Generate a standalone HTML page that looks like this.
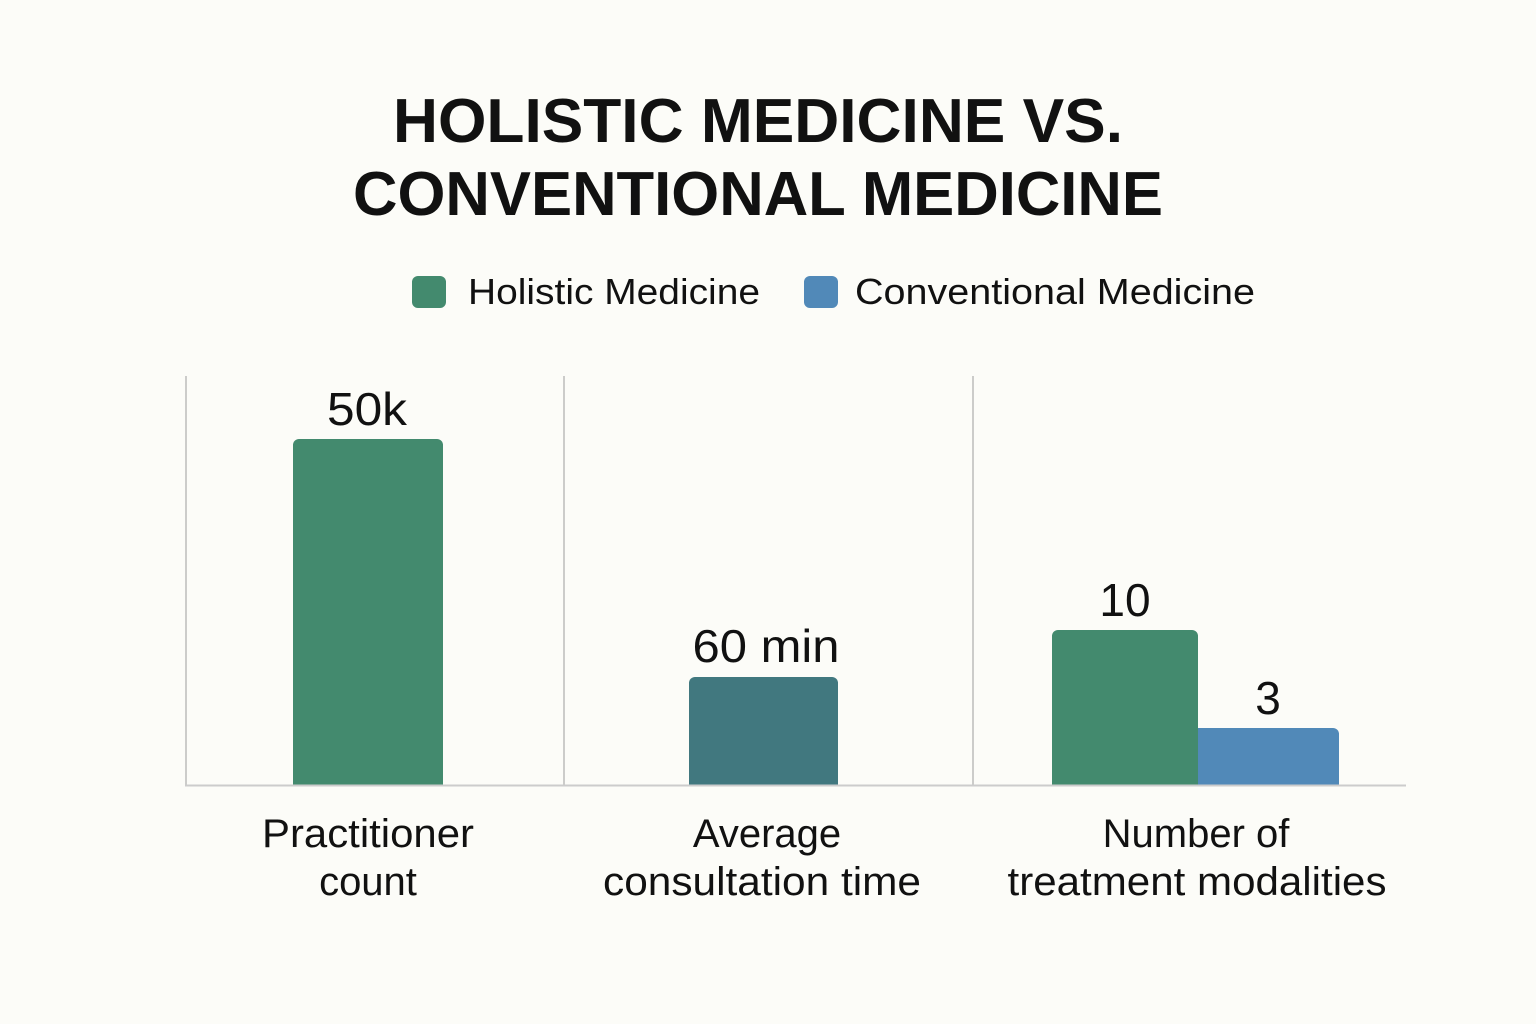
<!DOCTYPE html>
<html><head><style>html,body{margin:0;padding:0;background:#fcfcf8;}svg{display:block;}</style></head>
<body>
<svg width="1536" height="1024" viewBox="0 0 1536 1024" xmlns="http://www.w3.org/2000/svg" font-family="Liberation Sans, sans-serif">
<rect width="1536" height="1024" fill="#fcfcf8"/>
<g font-size="62" font-weight="bold" fill="#111" text-anchor="middle">
<text x="758" y="142" textLength="730" lengthAdjust="spacingAndGlyphs">HOLISTIC MEDICINE VS.</text>
<text x="758" y="215" textLength="810" lengthAdjust="spacingAndGlyphs">CONVENTIONAL MEDICINE</text>
</g>
<rect x="412" y="276" width="34" height="32" rx="6" fill="#438a6e"/>
<text x="468" y="304" font-size="36" fill="#111" textLength="292" lengthAdjust="spacingAndGlyphs">Holistic Medicine</text>
<rect x="804" y="276" width="34" height="32" rx="6" fill="#5189b8"/>
<text x="855" y="304" font-size="36" fill="#111" textLength="400" lengthAdjust="spacingAndGlyphs">Conventional Medicine</text>
<g stroke="#bbb" stroke-width="1.5">
<line x1="186" y1="376" x2="186" y2="785"/>
<line x1="564" y1="376" x2="564" y2="785"/>
<line x1="973" y1="376" x2="973" y2="785"/>
</g>
<path d="M293 785 V445 a6 6 0 0 1 6 -6 H437 a6 6 0 0 1 6 6 V785 Z" fill="#438a6e"/>
<path d="M689 785 V683 a6 6 0 0 1 6 -6 H832 a6 6 0 0 1 6 6 V785 Z" fill="#41787f"/>
<path d="M1052 785 V636 a6 6 0 0 1 6 -6 H1192 a6 6 0 0 1 6 6 V785 Z" fill="#438a6e"/>
<path d="M1198 785 V728 H1333 a6 6 0 0 1 6 6 V785 Z" fill="#5189b8"/>
<line x1="185" y1="785.5" x2="1406" y2="785.5" stroke="#ccc" stroke-width="2"/>
<g font-size="46" fill="#111" text-anchor="middle">
<text x="367" y="425" textLength="80" lengthAdjust="spacingAndGlyphs">50k</text>
<text x="766" y="662" textLength="147" lengthAdjust="spacingAndGlyphs">60 min</text>
<text x="1125" y="616">10</text>
<text x="1268" y="714">3</text>
</g>
<g font-size="40" fill="#111" text-anchor="middle">
<text x="368" y="847" textLength="212" lengthAdjust="spacingAndGlyphs">Practitioner</text>
<text x="368" y="895">count</text>
<text x="767" y="847">Average</text>
<text x="762" y="895" textLength="318" lengthAdjust="spacingAndGlyphs">consultation time</text>
<text x="1196" y="847">Number of</text>
<text x="1197" y="895" textLength="379" lengthAdjust="spacingAndGlyphs">treatment modalities</text>
</g>
</svg>
</body></html>
